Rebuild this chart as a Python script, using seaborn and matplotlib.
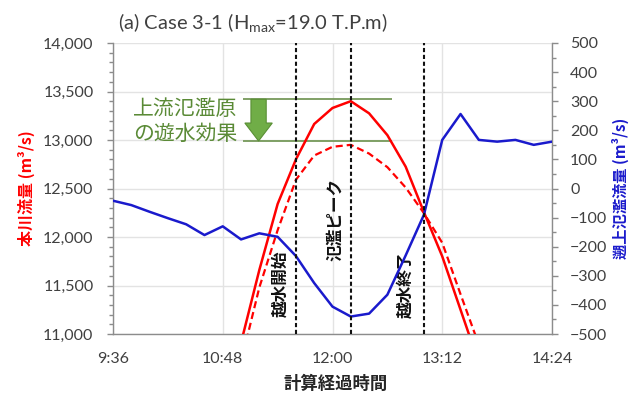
import numpy as np
import pandas as pd
import matplotlib
matplotlib.use("Agg")
import matplotlib.pyplot as plt
import seaborn as sns
from matplotlib.ticker import FixedLocator, MultipleLocator, FuncFormatter
from matplotlib.patches import FancyArrow

# ---------------- data ----------------
times = ["9:36", "9:48", "10:00", "10:12", "10:24", "10:36", "10:48", "11:00",
         "11:12", "11:24", "11:36", "11:48", "12:00", "12:12", "12:24", "12:36",
         "12:48", "13:00", "13:12", "13:24", "13:36", "13:48", "14:00", "14:12",
         "14:24"]
nan = np.nan
# main river discharge, with upstream floodplain (solid red)
main_flow_with = [nan, nan, nan, nan, nan, nan, nan, 10910,
                  11660, 12340, 12800, 13165, 13330, 13400, 13275, 13050,
                  12725, 12255, 11800, 11250, 10700, nan, nan, nan, nan]
# main river discharge, without floodplain (dashed red)
main_flow_without = [nan, nan, nan, nan, nan, nan, nan, 10710,
                     11480, 12070, 12590, 12840, 12930, 12950, 12860, 12720,
                     12510, 12245, 11940, 11410, 10890, nan, nan, nan, nan]
# backward overflow discharge (blue, right axis)
back_flow = [-42, -57, -80, -102, -123, -160, -130, -175, -154, -166, -232,
             -325, -406, -440, -430, -365, -230, -90, 167, 256, 167, 161, 167,
             150, 161]

x_tick_labels = ["9:36", "10:48", "12:00", "13:12", "14:24"]
event_times = ["11:36", "12:12", "13:00"]
event_labels = ["越水開始", "氾濫ピーク", "越水終了"]
event_label_pos = [("11:25.6", 11515), ("12:01.7", 12186), ("12:47.6", 11505)]
effect_levels = [13420, 12990]
effect_text = "上流氾濫原\nの遊水効果"


def to_min(s):
    h, m = s.split(":")
    return int(h) * 60 + float(m)


df = pd.DataFrame({
    "t": [to_min(s) for s in times],
    "with": main_flow_with,
    "without": main_flow_without,
    "back": back_flow,
})

# ---------------- style ----------------
sns.set_theme(style="white")
plt.rcParams["font.family"] = ["Lato", "Noto Sans CJK JP", "DejaVu Sans"]
plt.rcParams["mathtext.fontset"] = "custom"
plt.rcParams["mathtext.rm"] = "Lato"
plt.rcParams["mathtext.it"] = "Lato:italic"
cjk = ["Noto Sans CJK JP", "DejaVu Sans"]

RED = "#ff0000"
BLUE = "#1a1acc"
GRID = "#e3e3e3"
SPINE = "#8c8c8c"
TXT = "#404040"
GREEN_T = "#5a8a36"
GREEN_L = "#76995a"

fig = plt.figure(figsize=(6.3, 3.93), dpi=100)
ax = fig.add_axes([113 / 630, 1 - 334 / 393, 439 / 630, 291 / 393])
ax2 = ax.twinx()

sns.lineplot(data=df, x="t", y="with", ax=ax, color=RED, lw=1.8, zorder=3)
sns.lineplot(data=df, x="t", y="without", ax=ax, color=RED, lw=1.6,
             linestyle=(0, (3.2, 1.8)), zorder=3)
sns.lineplot(data=df, x="t", y="back", ax=ax2, color=BLUE, lw=1.8, zorder=3)

# axes ranges / ticks
xmin, xmax = to_min("9:36"), to_min("14:24")
ax.set_xlim(xmin, xmax)
ax.set_ylim(11000, 14000)
ax2.set_ylim(-500, 500)
ax.xaxis.set_major_locator(FixedLocator([to_min(s) for s in x_tick_labels]))
ax.xaxis.set_major_formatter(FuncFormatter(lambda v, p: f"{int(v // 60)}:{int(round(v % 60)):02d}"))
ax.xaxis.set_minor_locator(MultipleLocator(14.4))
ax.yaxis.set_major_locator(MultipleLocator(500))
ax.yaxis.set_minor_locator(MultipleLocator(100))
ax.yaxis.set_major_formatter(FuncFormatter(lambda v, p: f"{int(v):,}"))
ax2.yaxis.set_major_locator(MultipleLocator(100))
ax2.yaxis.set_minor_locator(MultipleLocator(50))

ax.grid(True, which="major", color=GRID, lw=1.0)
ax.set_axisbelow(True)
ax2.grid(False)

for a in (ax, ax2):
    for s in a.spines.values():
        s.set_color(SPINE)
        s.set_linewidth(1.0)
    a.spines["top"].set_visible(False)
ax.spines["right"].set_visible(False)

ax.tick_params(axis="both", which="major", direction="out", length=4, width=1,
               color=SPINE, labelsize=11.5, labelcolor=TXT)
ax.tick_params(axis="both", which="minor", direction="out", length=3, width=1,
               color=SPINE)
ax.tick_params(axis="x", which="major", pad=9)
ax.tick_params(axis="y", which="major", pad=10)
ax2.tick_params(axis="y", which="major", direction="out", length=4, width=1,
                color=SPINE, labelsize=11.5, labelcolor=TXT, pad=9)
ax2.tick_params(axis="y", which="minor", direction="out", length=3, width=1,
                color=SPINE)
ax2.spines["left"].set_visible(False)
ax2.spines["bottom"].set_visible(False)

# labels
ax.set_xlabel("計算経過時間", fontsize=12.5, fontweight="bold", color="#262626",
              family=cjk)
ax.xaxis.set_label_coords(0.506, -0.142)
ax.set_ylabel("本川流量 (m³/s)", fontsize=11.5, fontweight="bold", color=RED,
              family=cjk)
ax.yaxis.set_label_coords(-0.178, 0.5)
ax2.set_ylabel("遡上氾濫流量 (m³/s)", fontsize=11, fontweight="bold",
               color=BLUE, family=cjk, rotation=90)
ax2.yaxis.set_label_coords(1.137, 0.5)

# title
fig.text(118 / 630, 1 - 22 / 393, r"(a) Case 3-1 (H$_{\mathrm{max}}$=19.0 T.P.m)",
         fontsize=14.5, color=TXT, ha="left", va="center")

# event lines (drawn on top axis so they sit above all curves)
for et in event_times:
    ax2.axvline(to_min(et), color="#111111", lw=1.5, linestyle=(0, (2.0, 1.3)),
                zorder=4)
for (tx, ty), lab in zip(event_label_pos, event_labels):
    ax.text(to_min(tx), ty, lab, rotation=90, ha="center", va="center",
            fontsize=12, fontweight="bold", color="#111111", family=cjk,
            zorder=5)

# flood-plain storage effect annotation
ax.hlines(effect_levels, to_min("11:01"), to_min("12:39"), color=GREEN_L,
          lw=1.3, zorder=2)
arrow = FancyArrow(to_min("11:11.5"), effect_levels[0], 0,
                   effect_levels[1] - effect_levels[0], width=10.0,
                   head_width=18.0, head_length=185, length_includes_head=True,
                   facecolor="#70ad47", edgecolor="#5a8f35", lw=0.8, zorder=3)
ax.add_patch(arrow)
ax.text(to_min("10:23.6"), 13191, effect_text, ha="center", va="center",
        fontsize=15, color=GREEN_T, family=cjk, linespacing=1.15, zorder=5)

fig.savefig("out.png", dpi=100)
